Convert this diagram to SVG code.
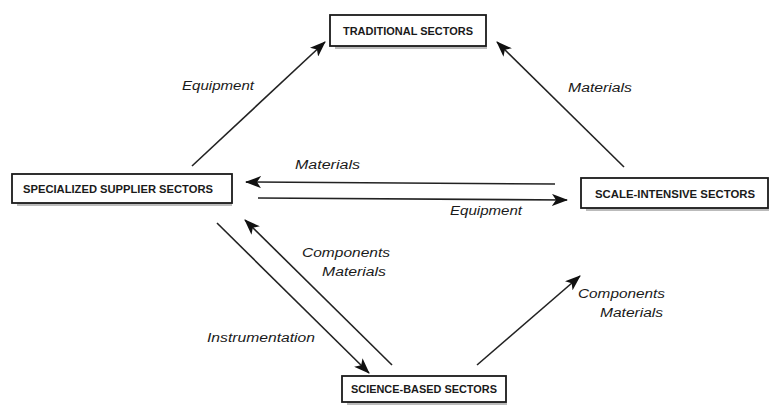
<svg xmlns="http://www.w3.org/2000/svg" width="771" height="411" viewBox="0 0 771 411">
<style>
.box rect.b{fill:#fff;stroke:#1a1a1a;stroke-width:1.8}
.box rect.s{fill:#bbb}
.box text{font-family:"Liberation Sans",Arial,sans-serif;font-weight:bold;font-size:10.5px;fill:#1a1a1a;text-anchor:middle}
.lbl{font-family:"Liberation Sans",Arial,sans-serif;font-style:italic;font-size:12px;fill:#1a1a1a}
#connectors line{stroke:#222;stroke-width:1.6;marker-end:url(#ah)}
</style>
<defs>
<marker id="ah" viewBox="0 0 16 12" refX="15" refY="6" markerWidth="16" markerHeight="12" markerUnits="userSpaceOnUse" orient="auto">
<path d="M0,0 L16,6 L0,12 L4,6 z" fill="#111"/>
</marker>
</defs>
<rect width="771" height="411" fill="#fff"/>
<g id="traditional" class="box">
<rect class="s" x="335" y="46" width="152" height="3"/>
<rect class="b" x="330" y="15" width="156" height="31"/>
<text x="408" y="35" textLength="130" lengthAdjust="spacingAndGlyphs">TRADITIONAL SECTORS</text>
</g>
<g id="specialized" class="box">
<rect class="s" x="17" y="203" width="215" height="3"/>
<rect class="b" x="12" y="174" width="220" height="29"/>
<text x="118" y="193" textLength="190" lengthAdjust="spacingAndGlyphs">SPECIALIZED SUPPLIER SECTORS</text>
</g>
<g id="scale" class="box">
<rect class="s" x="586" y="208" width="183" height="3"/>
<rect class="b" x="581" y="178" width="187" height="30"/>
<text x="675" y="198" textLength="160" lengthAdjust="spacingAndGlyphs">SCALE-INTENSIVE SECTORS</text>
</g>
<g id="science" class="box">
<rect class="s" x="347" y="402" width="160" height="3"/>
<rect class="b" x="342" y="376" width="164" height="26"/>
<text x="424" y="393" textLength="146" lengthAdjust="spacingAndGlyphs">SCIENCE-BASED SECTORS</text>
</g>
<g id="connectors">
<line x1="192" y1="166" x2="325" y2="42"/>
<line x1="624" y1="167" x2="497" y2="42"/>
<line x1="555" y1="184" x2="246" y2="182"/>
<line x1="258" y1="198" x2="567" y2="200"/>
<line x1="217" y1="223" x2="369" y2="373"/>
<line x1="392" y1="365" x2="245" y2="220"/>
<line x1="477" y1="365" x2="580" y2="276"/>
</g>
<g id="labels">
<text class="lbl" x="182" y="90" textLength="72" lengthAdjust="spacingAndGlyphs">Equipment</text>
<text class="lbl" x="568" y="92" textLength="64" lengthAdjust="spacingAndGlyphs">Materials</text>
<text class="lbl" x="295" y="169" textLength="65" lengthAdjust="spacingAndGlyphs">Materials</text>
<text class="lbl" x="450" y="215" textLength="72" lengthAdjust="spacingAndGlyphs">Equipment</text>
<text class="lbl" x="302" y="257" textLength="88" lengthAdjust="spacingAndGlyphs">Components</text>
<text class="lbl" x="322" y="276" textLength="64" lengthAdjust="spacingAndGlyphs">Materials</text>
<text class="lbl" x="207" y="342" textLength="108" lengthAdjust="spacingAndGlyphs">Instrumentation</text>
<text class="lbl" x="578" y="298" textLength="87" lengthAdjust="spacingAndGlyphs">Components</text>
<text class="lbl" x="600" y="317" textLength="63" lengthAdjust="spacingAndGlyphs">Materials</text>
</g>
</svg>
